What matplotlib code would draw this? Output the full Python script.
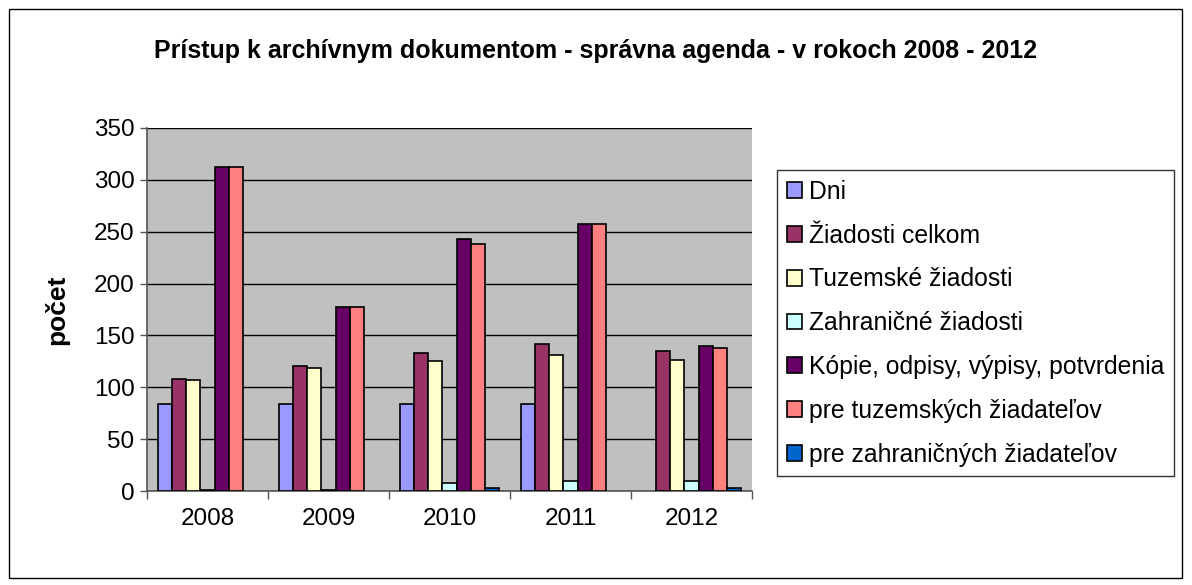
import numpy as np
import matplotlib
matplotlib.use('Agg')
import matplotlib.pyplot as plt
from matplotlib.patches import Rectangle

plt.rcParams['font.family'] = ['Liberation Sans', 'DejaVu Sans']

# DATA
years = ['2008', '2009', '2010', '2011', '2012']
series_names = ['Dni', 'Žiadosti celkom', 'Tuzemské žiadosti', 'Zahraničné žiadosti',
                'Kópie, odpisy, výpisy, potvrdenia', 'pre tuzemských žiadateľov',
                'pre zahraničných žiadateľov']
dni = [84, 84, 84, 84, 0]
ziadosti_celkom = [108, 121, 133, 142, 135]
tuzemske = [107, 119, 125, 131, 126]
zahranicne = [1, 1, 8, 10, 10]
kopie = [312, 177, 243, 257, 140]
pre_tuz = [312, 177, 238, 257, 138]
pre_zahr = [0, 0, 3, 0, 3]
colors = ['#9999FF', '#993366', '#FFFFCC', '#CCFFFF', '#660066', '#FF8080', '#0066CC']

values = [dni, ziadosti_celkom, tuzemske, zahranicne, kopie, pre_tuz, pre_zahr]

W, H = 1192, 585
fig = plt.figure(figsize=(W / 100, H / 100), dpi=100)
ax = fig.add_axes([147 / W, 1 - 491 / H, (752 - 147) / W, (491 - 128) / H])

x = np.arange(len(years))
bw = 0.116
for i, (vals, name, c) in enumerate(zip(values, series_names, colors)):
    off = (i - 3) * bw
    vals = np.array(vals, dtype=float)
    keep = vals > 0
    # zero values are not drawn (no edge line at the base)
    ax.bar(x[keep] + off, vals[keep], bw, color=c, edgecolor='black', linewidth=1.2,
           zorder=3)
    ax.bar([np.nan], [np.nan], color=c, edgecolor='black', linewidth=1.2, label=name)

ax.set_facecolor('#C0C0C0')
ax.set_xlim(-0.5, 4.5)
ax.set_ylim(0, 350)
ax.set_yticks(range(0, 351, 50))
ax.yaxis.grid(True, color='black', linewidth=1, zorder=1)
ax.set_xticks(x)
ax.set_xticklabels(years, fontsize=17.5)
ax.tick_params(axis='x', length=0, pad=12)
ax.set_xticks(np.arange(-0.5, 4.6, 1), minor=True)
ax.tick_params(axis='x', which='minor', length=6, width=1, color='#555555')
ax.tick_params(axis='y', labelsize=17.5, length=5, width=1, color='#555555', pad=4)
for s in ['top', 'right']:
    ax.spines[s].set_visible(False)
ax.spines['left'].set_color('#555555')
ax.spines['bottom'].set_color('#555555')
ax.spines['left'].set_linewidth(1.2)
ax.spines['bottom'].set_linewidth(1.2)

ax.set_ylabel('počet', fontsize=19, fontweight='bold', labelpad=18)

fig.text(0.5 * (9 + 1182) / W, 1 - 51 / H,
         'Prístup k archívnym dokumentom - správna agenda - v rokoch 2008 - 2012',
         ha='center', va='center', fontsize=18, fontweight='bold')

leg = fig.legend(loc='upper left', bbox_to_anchor=(777 / W, 1 - 170 / H), fontsize=17.8,
                 frameon=True, fancybox=False, edgecolor='black', handlelength=0.6,
                 handleheight=0.6, handletextpad=0.3, labelspacing=0.8, borderpad=0.4,
                 borderaxespad=0)
leg.get_frame().set_linewidth(1)

fig.patches.append(Rectangle((9 / W, 1 - 578 / H), (1182 - 9) / W, (578 - 9) / H,
                             transform=fig.transFigure, fill=False, edgecolor='black',
                             linewidth=1))

fig.savefig('out.png', dpi=100)
